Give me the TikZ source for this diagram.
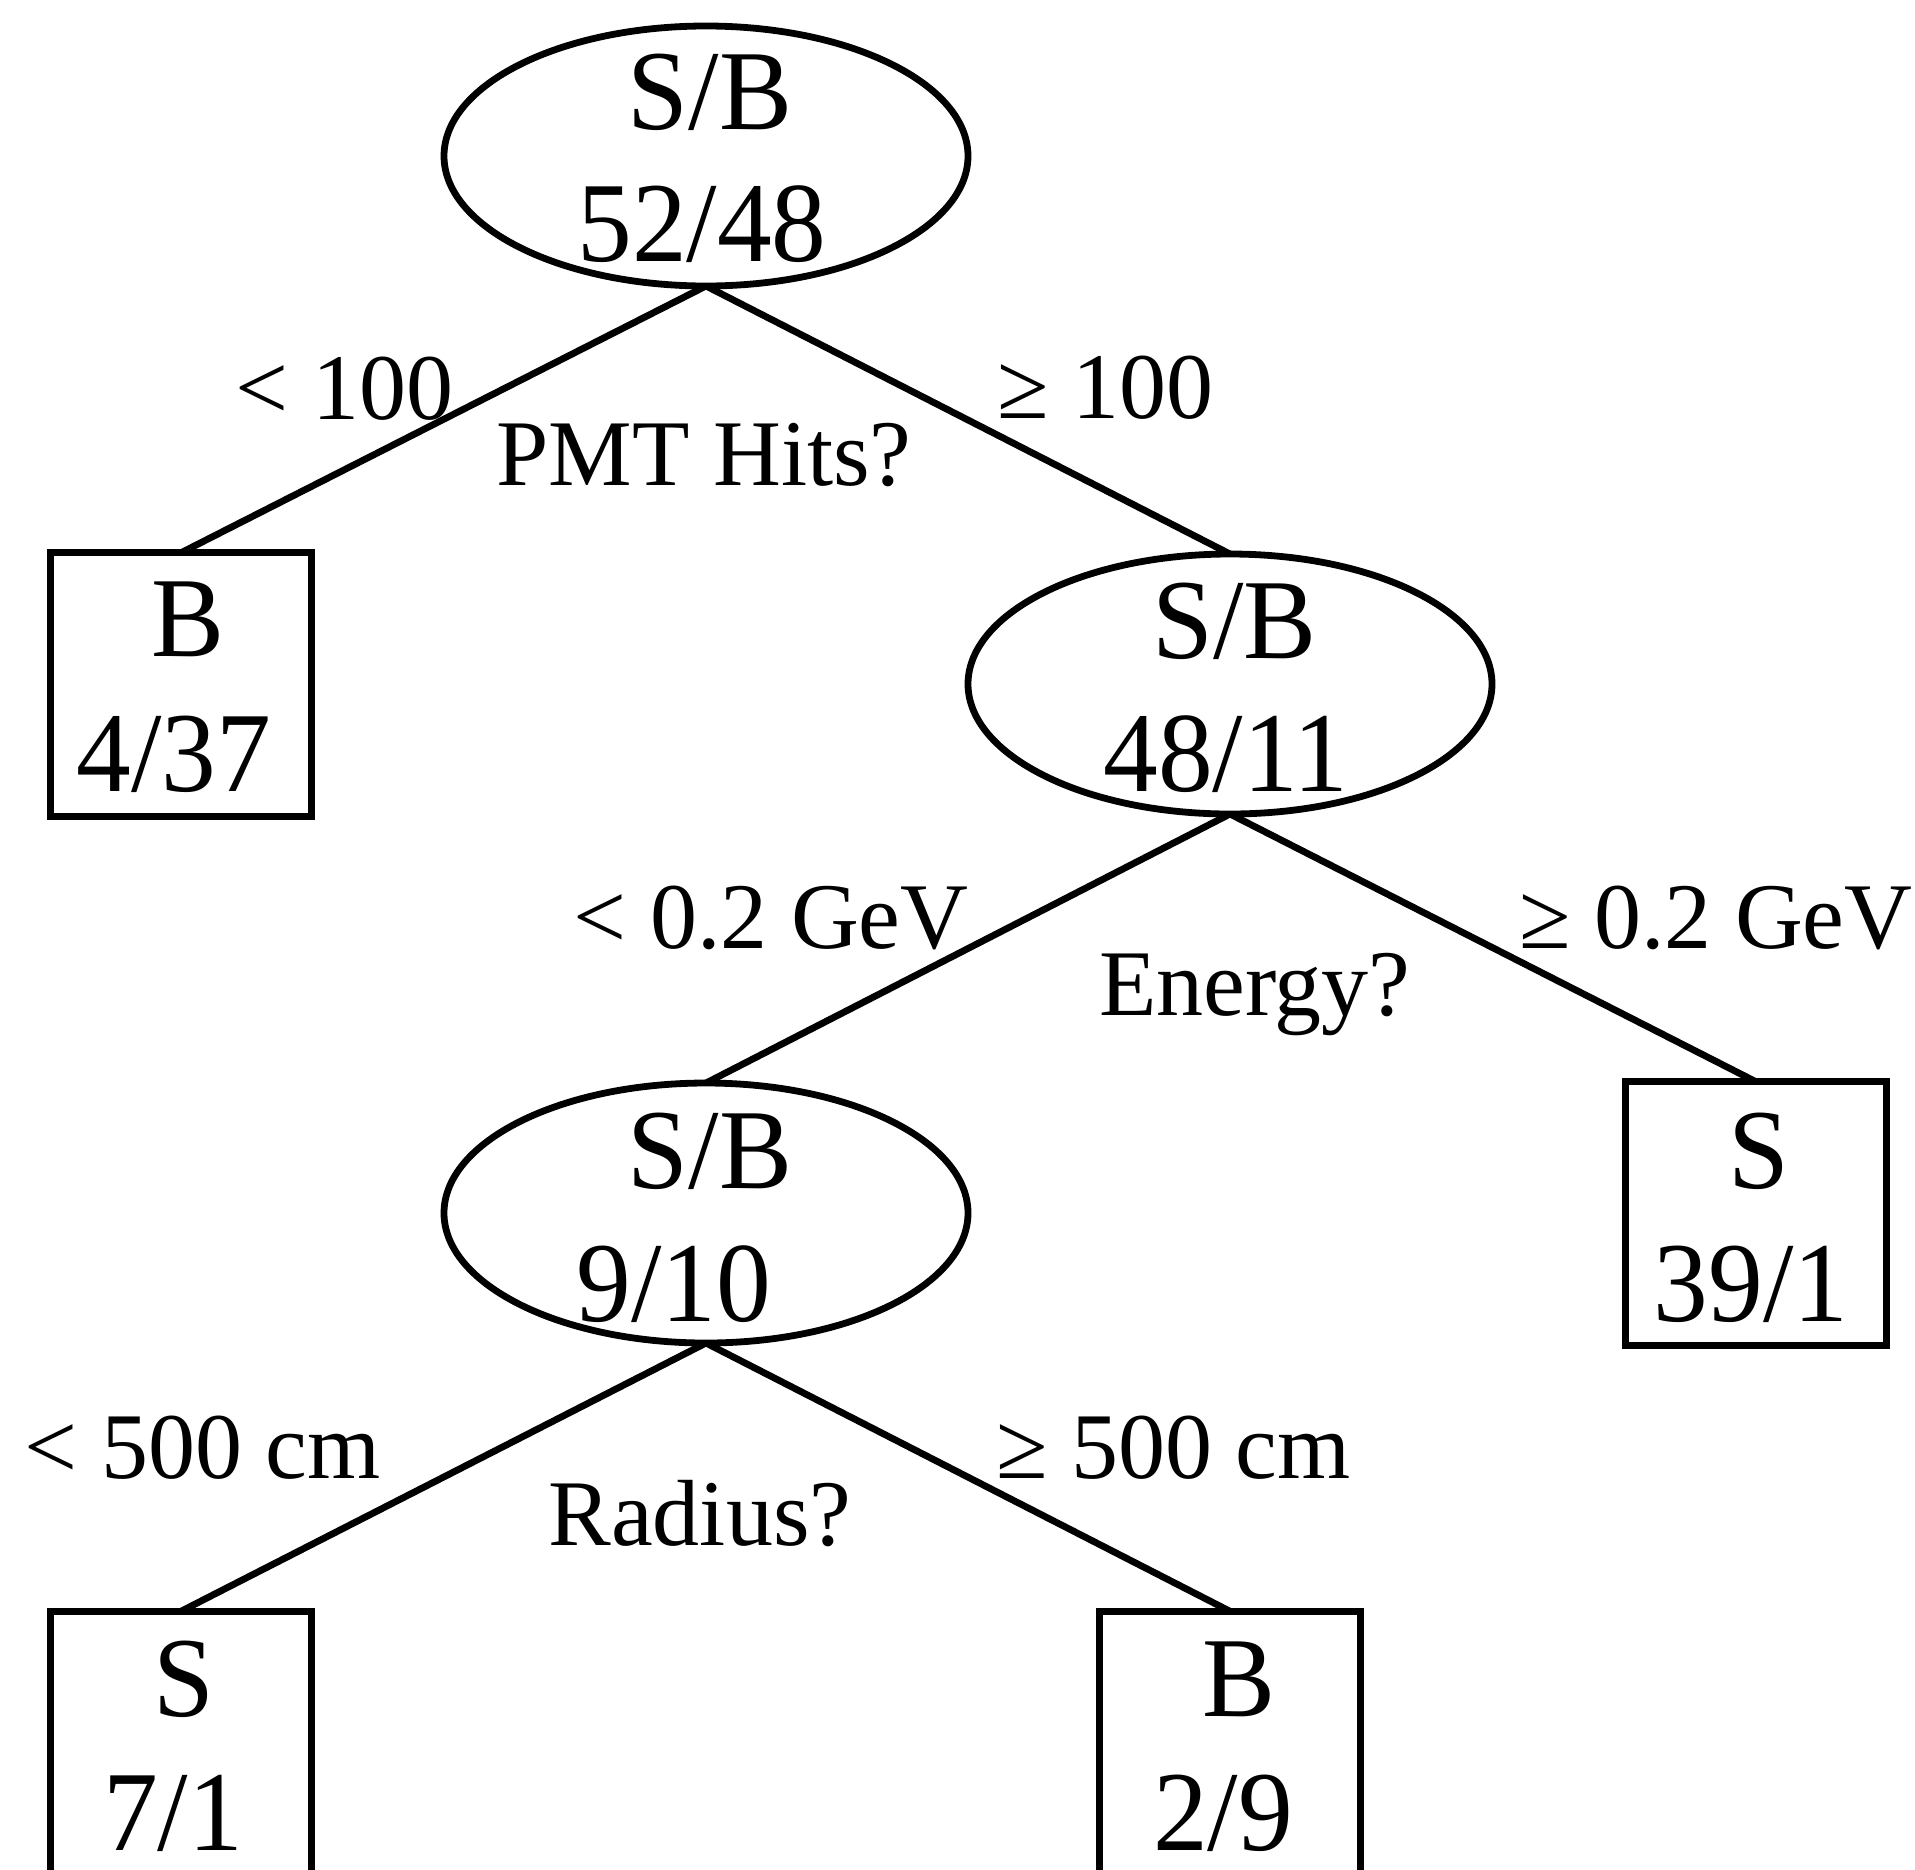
\documentclass[tikz,border=0pt]{standalone}
\usepackage{fontspec}
\setmainfont{Liberation Serif}
\newfontfamily\nodefont{Liberation Serif}[FakeStretch=0.96]
\usetikzlibrary{shapes.geometric}
\begin{document}
\begin{tikzpicture}[x=0.5pt,y=-0.5pt,
  every node/.style={inner sep=0pt, outer sep=0pt},
  conn/.style={line width=3.4pt},
  decision/.style={draw, ellipse, line width=3.4pt, minimum width=262pt, minimum height=130pt},
  leaf/.style={draw, rectangle, line width=3.4pt, minimum width=130.75pt, minimum height=131.75pt},
  ntext/.style={font=\nodefont\fontsize{57pt}{68pt}\selectfont, anchor=base},
  elabel/.style={font=\fontsize{47pt}{56pt}\selectfont, anchor=base west},
]
\useasboundingbox (0,0) rectangle (1915,1869);
\clip (0,0) rectangle (1915,1869);

% shapes
\node[decision] (n1) at (706,156) {};
\node[leaf] (l1) at (181,684.5) {};
\node[decision] (n2) at (1230,684) {};
\node[leaf] (l2) at (1756,1213.5) {};
\node[decision] (n3) at (706,1213) {};
\node[leaf] (l3) at (181,1743) {};
\node[leaf] (l4) at (1230,1743) {};

% node texts
\node[ntext] (n1a) at (710,129) {S/B};
\node[ntext] (n1b) at (702,261.7) {52/48};
\node[ntext] (n2a) at (1234.5,658.3) {S/B};
\node[ntext] (n2b) at (1226,791.7) {48/11};
\node[ntext] (n3a) at (710,1188.3) {S/B};
\node[ntext] (n3b) at (674,1321.7) {9/10};
\node[ntext] (l1a) at (188,656.7) {B};
\node[ntext] (l1b) at (174,791.7) {4/37};
\node[ntext] (l2a) at (1759,1188.3) {S};
\node[ntext] (l2b) at (1751,1321.7) {39/1};
\node[ntext] (l3a) at (184,1716.7) {S};
\node[ntext] (l3b) at (173,1850) {7/1};
\node[ntext] (l4a) at (1238.5,1716) {B};
\node[ntext] (l4b) at (1223,1850) {2/9};

% connectors
\draw[conn] (n1.south) -- (l1.north);
\draw[conn] (n1.south) -- (n2.north);
\draw[conn] (n2.south) -- (n3.north);
\draw[conn] (n2.south) -- (l2.north);
\draw[conn] (n3.south) -- (l3.north);
\draw[conn] (n3.south) -- (l4.north);

% edge labels
\node[elabel] (e1) at (235.5,419) {< 100};
\node[elabel] (q1) at (496.5,485) {PMT Hits?};
\node[elabel] (e2) at (997,418) {≥ 100};
\node[elabel] (e3) at (573.5,948) {< 0.2 GeV};
\node[elabel] (q2) at (1099,1015) {Energy?};
\node[elabel] (e4) at (1519,948) {≥ 0.2 GeV};
\node[elabel] (e5) at (24.5,1478) {< 500 cm};
\node[elabel] (q3) at (548.5,1545) {Radius?};
\node[elabel] (e6) at (996,1478) {≥ 500 cm};
\end{tikzpicture}
\end{document}
